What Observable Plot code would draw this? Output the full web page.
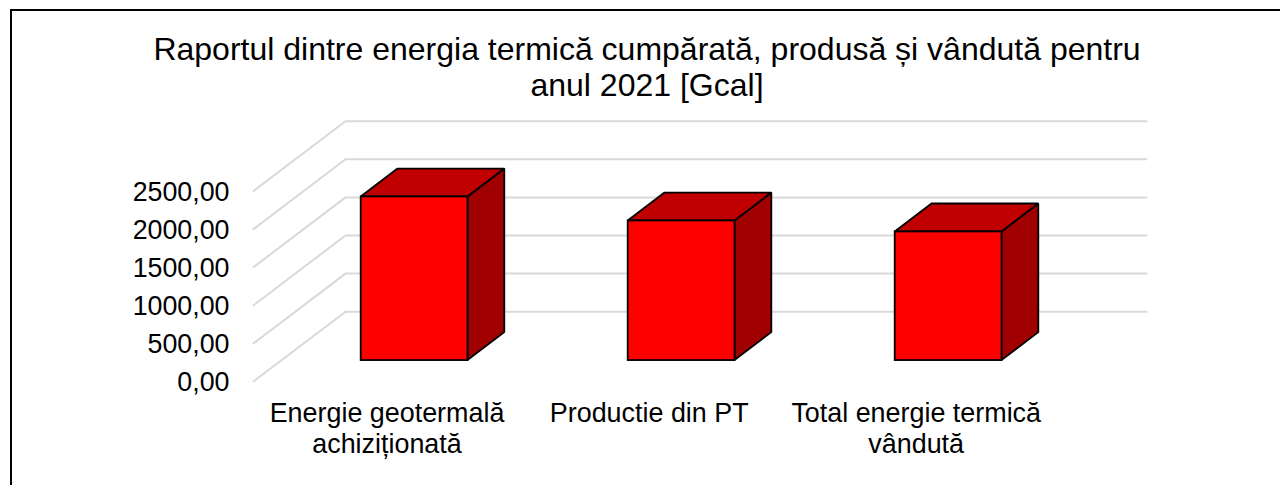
<!DOCTYPE html>
<html><head><meta charset="utf-8">
<script src="https://cdn.jsdelivr.net/npm/d3@7"></script>
<script src="https://cdn.jsdelivr.net/npm/@observablehq/plot@0.6"></script>
<style>
html,body{margin:0;padding:0;background:#fff;overflow:hidden;height:485px}
#frame{position:absolute;left:10px;top:9px;right:-10px;bottom:-10px;border:2px solid #000;box-sizing:border-box}
#title{position:absolute;left:0;top:31px;width:1294px;text-align:center;font:32px/36px "Liberation Sans",Arial,sans-serif;color:#000}
#chart{position:absolute;left:0;top:110px}
</style></head><body>
<div id="frame"></div>
<div id="title">Raportul dintre energia termică cumpărată, produsă și vândută pentru<br>anul 2021 [Gcal]</div>
<div id="chart"></div>
<script>
const categories = ["Energie geotermală\nachiziționată", "Productie din PT", "Total energie termică\nvândută"];
const values = [2147, 1832, 1688];
const yTicks = [0, 500, 1000, 1500, 2000, 2500];
const labelNudge = [0, -0.018, -0.018];

// Oblique projection of the 3D chart, in data units
const depthX = 0.3446, depthY = 916;
const barWidth = 0.4, zFront = 0.3, zBack = 0.7;
const px = (c, z) => c + z * depthX;
const py = (v, z) => v + z * depthY;

const grid = yTicks.flatMap(v => [
  {v, x: px(0, 0), y: py(v, 0)},
  {v, x: px(0, 1), y: py(v, 1)},
  {v, x: px(categories.length, 1), y: py(v, 1)}
]);
const bars = values.map((v, i) => ({i, v, l: i + 0.5 - barWidth / 2, r: i + 0.5 + barWidth / 2}));
const side = bars.flatMap(b => [zFront, zBack].map(z => ({
  i: b.i, x: px(b.r, z), y1: py(0, z), y2: py(b.v, z)
})));
const top_ = bars.flatMap(b => [zFront, zBack].map(z => ({
  i: b.i, x1: px(b.l, z), x2: px(b.r, z), y: py(b.v, z)
})));
const front = bars.map(b => ({
  x1: px(b.l, zFront), x2: px(b.r, zFront), y1: py(0, zFront), y2: py(b.v, zFront)
}));
const stroke = {stroke: "#000", strokeWidth: 1.8, strokeLinejoin: "miter"};

const plot = Plot.plot({
  width: 1280, height: 375,
  marginLeft: 253, marginRight: 226, marginTop: 80.5, marginBottom: 104,
  style: {fontFamily: '"Liberation Sans",Arial,sans-serif', background: "transparent", color: "#000", overflow: "visible"},
  x: {type: "linear", domain: [0, categories.length]},
  y: {domain: [0, 2500]},
  marks: [
    Plot.line(grid, {x: "x", y: "y", z: "v", stroke: "#d9d9d9", strokeWidth: 2}),
    Plot.area(side, {x1: "x", x2: "x", y1: "y1", y2: "y2", z: "i", fill: "#a00000", ...stroke}),
    Plot.area(top_, {x1: "x1", x2: "x2", y1: "y", y2: "y", z: "i", fill: "#c00000", ...stroke}),
    Plot.rect(front, {x1: "x1", x2: "x2", y1: "y1", y2: "y2", fill: "#ff0000", ...stroke}),
    Plot.axisY({ticks: yTicks, anchor: "left", tickSize: 0, tickPadding: 24, dy: 1, fontSize: 26.8, label: null, tickFormat: d => d.toFixed(2).replace(".", ",")}),
    Plot.axisX({ticks: categories.map((_, i) => i + 0.5 + labelNudge[i]), anchor: "bottom", tickSize: 0, tickPadding: 19, fontSize: 26.9, lineHeight: 1.15, label: null, tickFormat: d => categories[Math.floor(d)]})
  ]
});
document.getElementById("chart").append(plot);
</script></body></html>
